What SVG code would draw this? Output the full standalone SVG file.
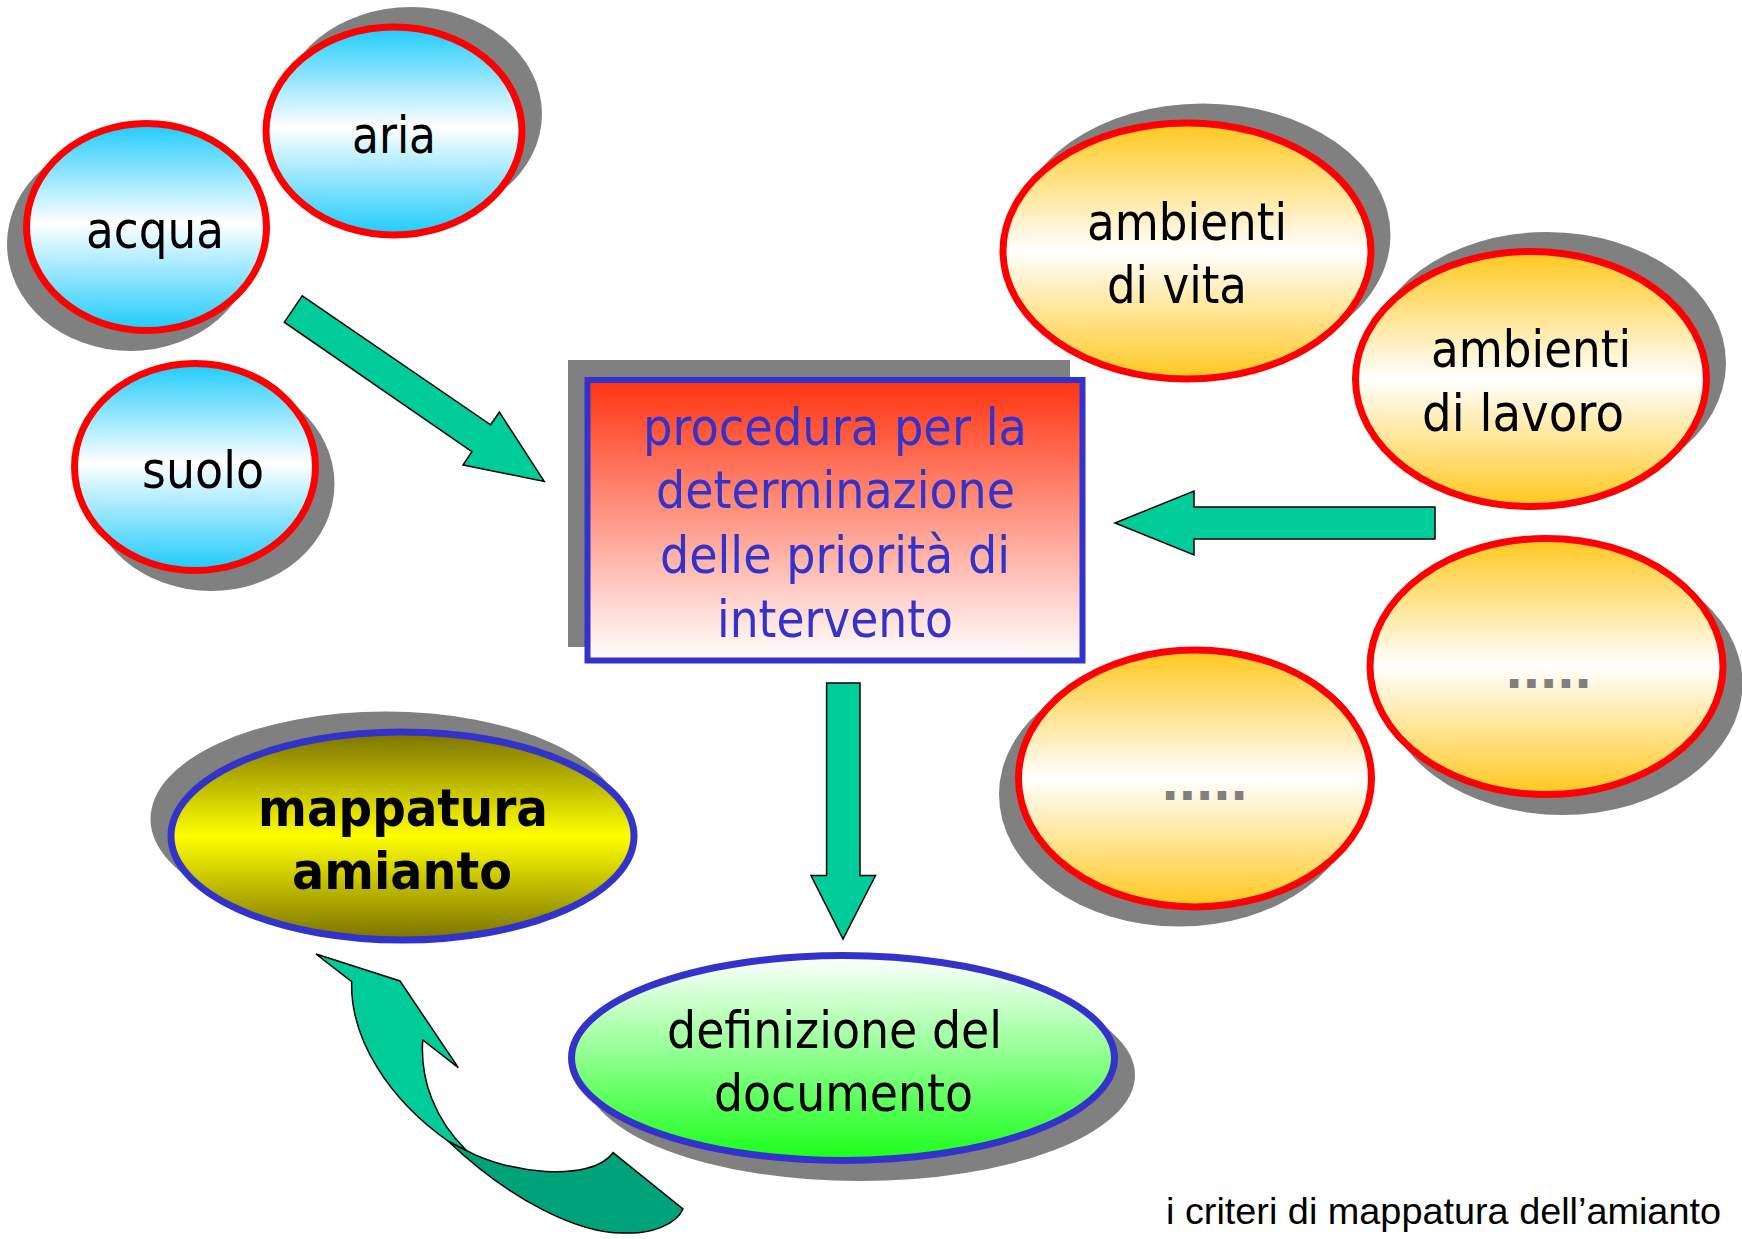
<svg xmlns="http://www.w3.org/2000/svg" width="1742" height="1239" viewBox="0 0 1742 1239">
<defs>
<linearGradient id="gBlue" x1="0" y1="0" x2="0" y2="1">
<stop offset="0" stop-color="#1ECBFB"/><stop offset="0.48" stop-color="#FFFFFF"/><stop offset="1" stop-color="#1ECBFB"/>
</linearGradient>
<linearGradient id="gOrange" x1="0" y1="0" x2="0" y2="1">
<stop offset="0" stop-color="#FFC81E"/><stop offset="0.5" stop-color="#FFFFFF"/><stop offset="1" stop-color="#FFC81E"/>
</linearGradient>
<linearGradient id="gYellow" x1="0" y1="0" x2="0" y2="1">
<stop offset="0" stop-color="#7A7200"/><stop offset="0.5" stop-color="#FFFF00"/><stop offset="1" stop-color="#7A7200"/>
</linearGradient>
<linearGradient id="gGreen" x1="0" y1="0" x2="0" y2="1">
<stop offset="0" stop-color="#FFFFFF"/><stop offset="1" stop-color="#1AFF1A"/>
</linearGradient>
<linearGradient id="gRed" x1="0" y1="0" x2="0" y2="1">
<stop offset="0" stop-color="#FF3311"/><stop offset="1" stop-color="#FFFFFF"/>
</linearGradient>
</defs>
<style>
.sh{fill:#808080}
.rb{fill:url(#gBlue);stroke:#FF0000;stroke-width:7}
.ro{fill:url(#gOrange);stroke:#FF0000;stroke-width:7}
.t{font-family:"DejaVu Sans","Liberation Sans",sans-serif;font-size:52px;fill:#000}
.tb{font-family:"DejaVu Sans","Liberation Sans",sans-serif;font-size:52px;font-weight:bold;fill:#000}
.tv{font-family:"DejaVu Sans","Liberation Sans",sans-serif;font-size:52px;fill:#3333CC}
.dots{font-family:"DejaVu Sans","Liberation Sans",sans-serif;font-size:48px;font-weight:bold;fill:#808080;letter-spacing:-1px}
.ar{fill:#00CC99;stroke:#000;stroke-width:1.5;stroke-linejoin:miter}
.ard{fill:#00A27A;stroke:#000;stroke-width:1.5}
</style>

<g id="aria">
<ellipse class="sh" cx="411" cy="114" rx="131" ry="107"/>
<ellipse class="rb" cx="394" cy="131" rx="128" ry="104"/>
<text class="t" x="352" y="153" textLength="84" lengthAdjust="spacingAndGlyphs">aria</text>
</g>
<g id="acqua">
<ellipse class="sh" cx="130.5" cy="244" rx="123.5" ry="107"/>
<ellipse class="rb" cx="146.5" cy="227" rx="120" ry="103.5"/>
<text class="t" x="86" y="248" textLength="138" lengthAdjust="spacingAndGlyphs">acqua</text>
</g>
<g id="suolo">
<ellipse class="sh" cx="211" cy="484" rx="123.5" ry="107"/>
<ellipse class="rb" cx="195" cy="467" rx="120.5" ry="103.5"/>
<text class="t" x="142" y="488" textLength="122" lengthAdjust="spacingAndGlyphs">suolo</text>
</g>

<g id="procedura">
<rect class="sh" x="568" y="360" width="502" height="287"/>
<rect x="587.5" y="380" width="495" height="280.5" fill="url(#gRed)" stroke="#3333CC" stroke-width="6"/>
<text class="tv" x="643" y="445" textLength="384" lengthAdjust="spacingAndGlyphs">procedura per la</text>
<text class="tv" x="656" y="508" textLength="359" lengthAdjust="spacingAndGlyphs">determinazione</text>
<text class="tv" x="660" y="573" textLength="350" lengthAdjust="spacingAndGlyphs">delle priorità di</text>
<text class="tv" x="717" y="637" textLength="236" lengthAdjust="spacingAndGlyphs">intervento</text>
</g>

<g id="ambienti-vita">
<ellipse class="sh" cx="1203" cy="235" rx="187.5" ry="131.5"/>
<ellipse class="ro" cx="1187" cy="251" rx="184" ry="128"/>
<text class="t" x="1087" y="240" textLength="200" lengthAdjust="spacingAndGlyphs">ambienti</text>
<text class="t" x="1107" y="303" textLength="140" lengthAdjust="spacingAndGlyphs">di vita</text>
</g>
<g id="ambienti-lavoro">
<ellipse class="sh" cx="1547" cy="363" rx="179" ry="131"/>
<ellipse class="ro" cx="1531" cy="379" rx="175.5" ry="127.5"/>
<text class="t" x="1431" y="367" textLength="200" lengthAdjust="spacingAndGlyphs">ambienti</text>
<text class="t" x="1422" y="431" textLength="202" lengthAdjust="spacingAndGlyphs">di lavoro</text>
</g>
<g id="altro-1">
<ellipse class="sh" cx="1562.5" cy="683.5" rx="180" ry="131.5"/>
<ellipse class="ro" cx="1546.5" cy="666.5" rx="176.5" ry="128"/>
<text class="dots" x="1505" y="688">.....</text>
</g>
<g id="altro-2">
<ellipse class="sh" cx="1179" cy="794.5" rx="180" ry="132"/>
<ellipse class="ro" cx="1195" cy="778.5" rx="176.5" ry="128.5"/>
<text class="dots" x="1161" y="800">.....</text>
</g>

<g id="mappatura">
<ellipse class="sh" cx="385.5" cy="819" rx="235" ry="107.5"/>
<ellipse cx="402.5" cy="836" rx="231.5" ry="104" fill="url(#gYellow)" stroke="#3333CC" stroke-width="7"/>
<text class="tb" x="258" y="826" textLength="290" lengthAdjust="spacingAndGlyphs">mappatura</text>
<text class="tb" x="292" y="889" textLength="220" lengthAdjust="spacingAndGlyphs">amianto</text>
</g>

<g id="definizione">
<ellipse class="sh" cx="860" cy="1075" rx="275" ry="106"/>
<ellipse cx="843" cy="1058" rx="271.5" ry="102.5" fill="url(#gGreen)" stroke="#3333CC" stroke-width="7"/>
<text class="t" x="667" y="1048" textLength="335" lengthAdjust="spacingAndGlyphs">definizione del</text>
<text class="t" x="714" y="1111" textLength="259" lengthAdjust="spacingAndGlyphs">documento</text>
</g>

<g id="connectors">
<polygon class="ar" points="302.3,295.8 490.6,424.8 499.4,412.2 544.2,481.4 463,465 471.9,451.6 284.3,322.2"/>
<polygon class="ar" points="1115,523 1194,491 1194,507 1435,507 1435,539 1194,539 1194,555"/>
<polygon class="ar" points="826.6,683 860,683 860,875.5 875.5,875.5 843,939 811,875.5 826.6,875.5"/>
<path class="ard" d="M466.7,1150.7 C505,1172 590,1184 613,1152.7 L683,1209 C676,1225 650,1234 626.7,1233 C580,1235 510,1200 448,1141 Z"/>
<path class="ar" d="M316,954 L400,981 L458.3,1067.7 L422.7,1040 C420,1080 435,1120 466.7,1150.7 L448,1141 C390,1100 350,1040 351.7,981.7 Z"/>
</g>

<text id="footer" x="1166" y="1224" font-family="Liberation Sans, Arial, sans-serif" font-size="37.5" fill="#000" textLength="555" lengthAdjust="spacingAndGlyphs">i criteri di mappatura dell’amianto</text>
</svg>
